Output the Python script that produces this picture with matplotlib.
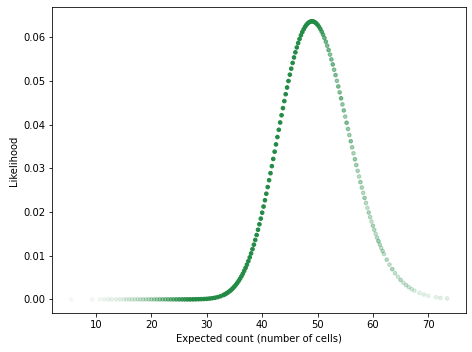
import matplotlib
matplotlib.use('Agg')
import matplotlib.pyplot as plt
import numpy as np

# Expected count (number of cells) for each point
expected_count = [
    5.5, 9.3, 10.7, 11.5, 12.2, 12.8, 13.6, 14.3,
    15.0, 15.5, 16.0, 16.5, 17.0, 17.5, 18.0, 18.5, 19.0, 19.5, 20.0, 20.5,
    21.0, 21.5, 22.0, 22.5, 23.0, 23.5, 24.0, 24.5, 25.0, 25.5, 26.0, 26.5,
    27.0, 27.5, 28.0, 28.5, 29.0, 29.5, 30.0, 30.5, 31.0, 31.5, 32.0, 32.5,
    33.0, 33.25, 33.5, 33.75, 34.0, 34.25, 34.5, 34.75, 35.0, 35.25, 35.5, 35.75,
    36.0, 36.25, 36.5, 36.75, 37.0, 37.25, 37.5, 37.75, 38.0, 38.25, 38.5, 38.75,
    39.0, 39.25, 39.5, 39.75, 40.0, 40.25, 40.5, 40.75, 41.0, 41.25, 41.5, 41.75,
    42.0, 42.25, 42.5, 42.75, 43.0, 43.25, 43.5, 43.75, 44.0, 44.25, 44.5, 44.75,
    45.0, 45.25, 45.5, 45.75, 46.0, 46.25, 46.5, 46.75, 47.0, 47.25, 47.5, 47.75,
    48.0, 48.25, 48.5, 48.75, 49.0, 49.25, 49.5, 49.75, 50.0, 50.25, 50.5, 50.75,
    51.0, 51.25, 51.5, 51.75, 52.0, 52.25, 52.5, 52.75, 53.0, 53.25, 53.5, 53.75,
    54.0, 54.25, 54.5, 54.75, 55.0, 55.25, 55.5, 55.75, 56.0, 56.25, 56.5, 56.75,
    57.0, 57.25, 57.5, 57.75, 58.0, 58.25, 58.5, 58.75, 59.0, 59.25, 59.5, 59.75,
    60.0, 60.25, 60.5, 60.75, 61.0, 61.25, 61.5, 61.75, 62.0,
    62.5, 63.0, 63.5, 64.0, 64.5, 65.0, 65.5, 66.0, 66.5, 67.0, 67.5,
    68.4, 69.2, 70.0, 71.4, 72.2, 73.4,
]

likelihood = [
    0, 0, 0, 0, 0, 0, 0, 0,
    0, 0, 0, 0, 0, 0, 0, 0, 0, 0, 0, 0,
    0, 0, 0, 0, 0, 0, 0, 0, 0, 0, 0, 0,
    0, 0.00001, 0.00002, 0.00004, 0.00006, 0.00009, 0.00013, 0.00019, 0.00027, 0.00038, 0.00053, 0.00073,
    0.00099, 0.00115, 0.00133, 0.00153, 0.00176, 0.00201, 0.00229, 0.00261, 0.00296, 0.00334, 0.00376, 0.00422,
    0.00473, 0.00527, 0.00587, 0.00652, 0.00721, 0.00796, 0.00876, 0.00962, 0.01053, 0.01150, 0.01253, 0.01361,
    0.01475, 0.01595, 0.01720, 0.01850, 0.01986, 0.02126, 0.02271, 0.02420, 0.02573, 0.02730, 0.02890, 0.03052,
    0.03217, 0.03383, 0.03550, 0.03718, 0.03885, 0.04052, 0.04218, 0.04381, 0.04542, 0.04700, 0.04853, 0.05002,
    0.05147, 0.05285, 0.05417, 0.05542, 0.05659, 0.05770, 0.05871, 0.05964, 0.06049, 0.06123, 0.06188, 0.06244,
    0.06289, 0.06325, 0.06350, 0.06365, 0.06370, 0.06365, 0.06350, 0.06326, 0.06291, 0.06248, 0.06196, 0.06134,
    0.06065, 0.05988, 0.05903, 0.05811, 0.05712, 0.05608, 0.05497, 0.05382, 0.05261, 0.05137, 0.05008, 0.04877,
    0.04742, 0.04606, 0.04467, 0.04328, 0.04187, 0.04046, 0.03904, 0.03764, 0.03623, 0.03484, 0.03346, 0.03210,
    0.03076, 0.02944, 0.02814, 0.02687, 0.02563, 0.02441, 0.02323, 0.02209, 0.02097, 0.01989, 0.01885, 0.01784,
    0.01687, 0.01593, 0.01503, 0.01416, 0.01334, 0.01255, 0.01179, 0.01107, 0.01038,
    0.00910, 0.00795, 0.00692, 0.00600, 0.00518, 0.00446, 0.00382, 0.00327, 0.00278, 0.00236, 0.00200,
    0.00146, 0.00110, 0.00082, 0.00048, 0.00035, 0.00022,
]

# relative weight of each point (drawn as opacity)
weight = [
    0.04, 0.05, 0.06, 0.07, 0.08, 0.09, 0.10, 0.11,
    0.12, 0.12, 0.14, 0.15, 0.17, 0.18, 0.20, 0.22, 0.24, 0.26, 0.30, 0.33,
    0.36, 0.40, 0.44, 0.48, 0.52, 0.57, 0.62, 0.68, 0.74, 0.80, 0.86, 0.92,
    0.96, 1, 1, 1, 1, 1, 1, 1, 1, 1, 1, 1,
    1, 1, 1, 1, 1, 1, 1, 1, 1, 1, 1, 1,
    1, 1, 1, 1, 1, 1, 1, 1, 1, 1, 1, 1,
    1, 1, 1, 1, 1, 1, 1, 1, 1, 1, 1, 1,
    1, 1, 1, 1, 1, 1, 1, 1, 1, 1, 1, 1,
    1, 1, 1, 1, 1, 1, 1, 1, 1, 1, 1, 1,
    1, 1, 1, 1, 1, 1, 1, 0.95, 0.92, 0.88, 0.82, 0.76,
    0.70, 0.64, 0.60, 0.55, 0.60, 0.50, 0.55, 0.60, 0.50, 0.55, 0.45, 0.55,
    0.50, 0.60, 0.45, 0.50, 0.40, 0.55, 0.45, 0.40, 0.50, 0.40, 0.35, 0.45,
    0.40, 0.35, 0.30, 0.40, 0.35, 0.30, 0.40, 0.30, 0.25, 0.35, 0.30, 0.25,
    0.35, 0.30, 0.25, 0.30, 0.40, 0.30, 0.25, 0.30, 0.25,
    0.30, 0.25, 0.35, 0.25, 0.20, 0.30, 0.20, 0.25, 0.20, 0.18, 0.15,
    0.12, 0.12, 0.10, 0.10, 0.12, 0.12,
]

x = np.array(expected_count)
y = np.array(likelihood)
w = np.array(weight)

fig = plt.figure(figsize=(472 / 72, 352 / 72), dpi=72)
ax = fig.add_subplot(111)
fig.subplots_adjust(left=0.111, right=0.987, bottom=0.110, top=0.979)

ax.scatter(x, y, s=13, color='#238b45', alpha=w, linewidths=1.0)

ax.set_xlabel('Expected count (number of cells)')
ax.set_ylabel('Likelihood')

plt.savefig('out.png', dpi=72)
plt.close()
